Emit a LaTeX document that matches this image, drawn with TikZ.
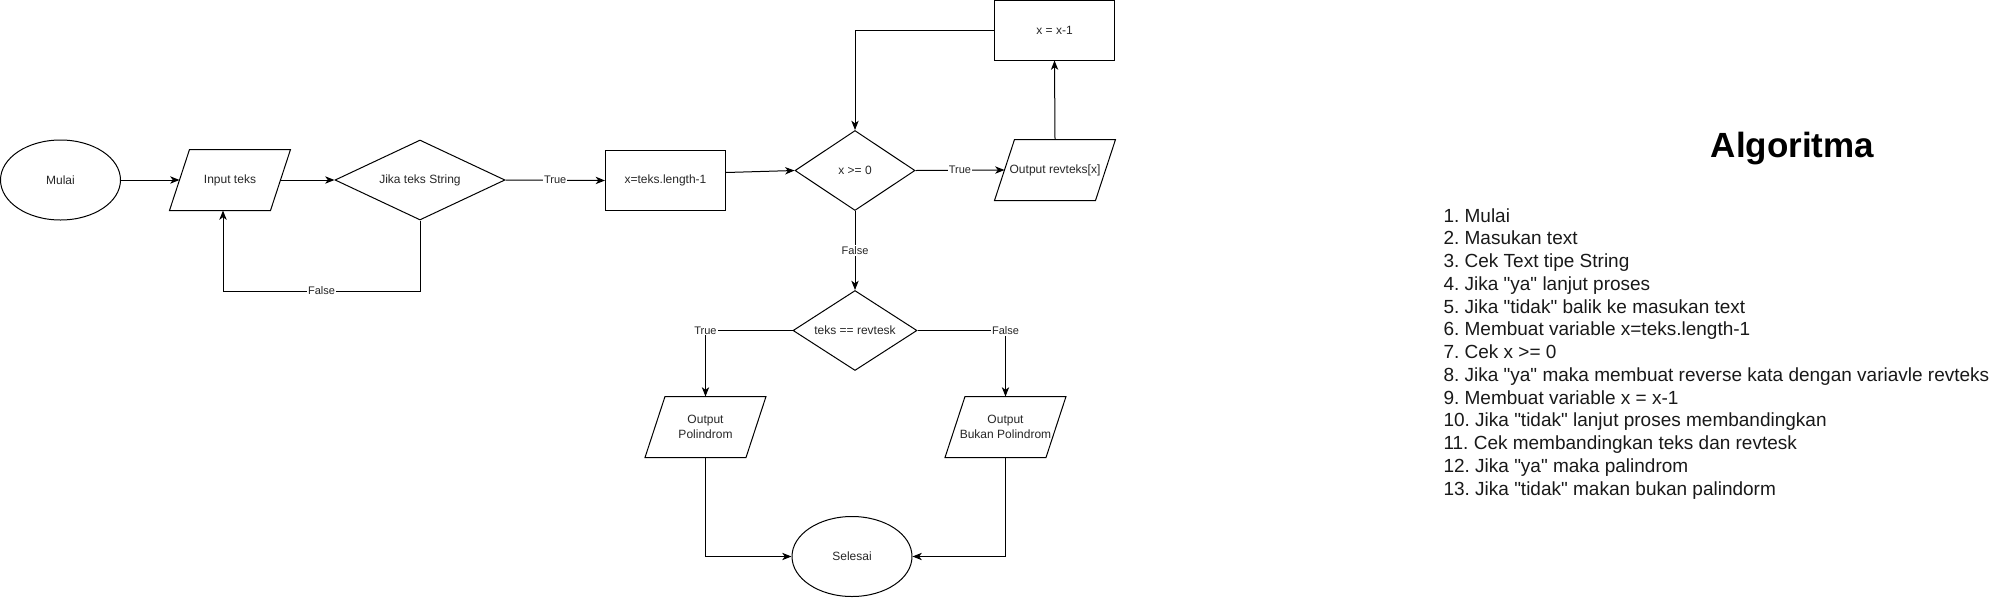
\documentclass[tikz,border=0pt]{standalone}
\usepackage{fontspec}
\setmainfont{Liberation Sans}[Ligatures=TeXOff]
\usetikzlibrary{shapes.geometric,arrows.meta,calc}
\frenchspacing
\newcommand\pgram[1]{\draw[line width=0.75pt] ([xshift=7.5pt]#1.north west) -- ([xshift=7.5pt]#1.north east) -- ([xshift=-7.5pt]#1.south east) -- ([xshift=-7.5pt]#1.south west) -- cycle;}
\begin{document}
\frenchspacing
\begin{tikzpicture}[x=0.75pt,y=-0.75pt,
  line width=0.75pt,
  basenode/.style={draw=black, line width=0.75pt, inner sep=0pt, align=center, font=\fontsize{9pt}{10.8pt}\selectfont, text=black!85},
  term/.style={basenode, ellipse, minimum width=90pt, minimum height=60pt},
  proc/.style={basenode, rectangle, minimum width=90pt, minimum height=45pt},
  decision/.style={basenode, diamond, aspect=1.5, minimum height=60pt},
  io/.style={basenode, draw=none, rectangle, minimum width=75pt, minimum height=45pt},
  arr/.style={-{Stealth[length=7pt,width=5.5pt,inset=2pt]}, line width=0.75pt},
  lbl/.style={fill=white, inner sep=0.8pt, font=\fontsize{8.25pt}{9.9pt}\selectfont, text=black!85},
  listline/.style={anchor=base west, inner sep=0pt, font=\fontsize{14.25pt}{17pt}\selectfont\frenchspacing, text=black!90},
]
\useasboundingbox (0,0) rectangle (2014,597);

% nodes
\node[term] (mulai) at (60.5,180) {Mulai};
\node[io] (input) at (230,180) {Input teks};
\node[decision, minimum width=127.5pt] (cek1) at (420,180) {Jika teks String};
\node[proc] (b1) at (665.5,180.5) {x=teks.length-1};
\node[decision, minimum width=90pt] (cek2) at (855,170.5) {x >= 0};
\node[io] (rev) at (1055,170) {Output revteks[x]};
\node[proc] (dec) at (1054.5,30) {x = x-1};
\node[decision, minimum width=93pt] (cek3) at (855,330.5) {teks == revtesk};
\node[io] (pol) at (705.5,427) {Output\\Polindrom};
\node[io] (buk) at (1005.5,427) {Output\\Bukan Polindrom};
\node[term] (sel) at (852,556.5) {Selesai};

\pgram{input}
\pgram{rev}
\pgram{pol}
\pgram{buk}

% connectors
\coordinate (c1) at (223,291);
\draw[arr] (mulai.east) -- (input.west);
\draw[arr] (input.east) -- (cek1.west);
\draw[arr] (cek1.south) |- node[lbl,pos=0.75]{False} (c1) -- (input.south -| c1);
\draw[arr] (cek1.east) -- node[lbl]{True} (b1.west);
\draw[arr] ([yshift=6pt]b1.east) -- (cek2.west);
\draw[arr] (cek2.east) -- node[lbl]{True} (rev.west);
\draw[arr] (rev.north) -- (dec.south);
\draw[arr] (dec.west) -| (cek2.north);
\draw[arr] (cek2.south) -- node[lbl]{False} (cek3.north);
\draw[arr] (cek3.west) -| node[lbl,pos=0.5]{True} (pol.north);
\draw[arr] (cek3.east) -| node[lbl,pos=0.5]{False} (buk.north);
\draw[arr] (pol.south) |- (sel.west);
\draw[arr] (buk.south) |- (sel.east);

% algorithm text
\node[anchor=base, inner sep=0pt, font=\fontsize{26.25pt}{31pt}\selectfont\bfseries] (title) at (1792.5,157) {Algoritma};
\foreach \t [count=\i] in {1. Mulai, 2. Masukan text, 3. Cek Text tipe String, 4. Jika "ya" lanjut proses, 5. Jika "tidak" balik ke masukan text, 6. Membuat variable x=teks.length-1, 7. Cek x >= 0, 8. Jika "ya" maka membuat reverse kata dengan variavle revteks, 9. Membuat variable x = x-1, 10. Jika "tidak" lanjut proses membandingkan, 11. Cek membandingkan teks dan revtesk, 12. Jika "ya" maka palindrom, 13. Jika "tidak" makan bukan palindorm}
  \node[listline] (l\i) at (1443,{222+(\i-1)*22.75}) {\t};
\end{tikzpicture}
\end{document}
